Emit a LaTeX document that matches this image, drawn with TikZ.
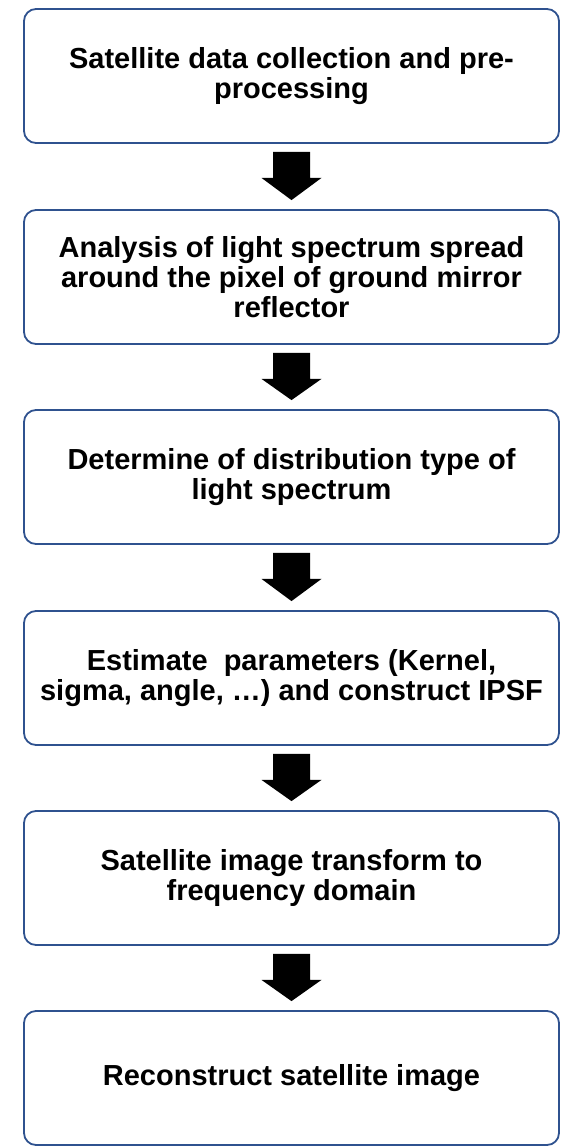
\documentclass[tikz,border=0pt]{standalone}
\usepackage{fontspec}
\setmainfont{Liberation Sans}
\usetikzlibrary{calc}
\definecolor{boxblue}{RGB}{47,82,143}
\tikzset{
  stepbox/.style={draw=boxblue, line width=1.8pt, rounded corners=12pt,
    minimum width=535pt, minimum height=134pt, align=center, inner sep=0pt,
    font=\fontsize{29}{30}\selectfont\bfseries},
  blockarrow/.style={fill=black, draw=none}
}
\begin{document}
\begin{tikzpicture}[x=1pt,y=1pt]
\useasboundingbox (0,0) rectangle (577,-1146);
\node[stepbox] (b1) at (291.5,-76) {Satellite data collection and pre-\\processing};
\node[stepbox] (b2) at (291.5,-277) {Analysis of light spectrum spread\\around the pixel of ground mirror\\reflector};
\node[stepbox] (b3) at (291.5,-477) {Determine of distribution type of\\light spectrum};
\node[stepbox] (b4) at (291.5,-678) {Estimate\ \ parameters (Kernel,\\sigma, angle, …) and construct IPSF};
\node[stepbox] (b5) at (291.5,-878) {Satellite image transform to\\frequency domain};
\node[stepbox] (b6) at (291.5,-1078) {Reconstruct satellite image};
\foreach \a/\b in {b1/b2,b2/b3,b3/b4,b4/b5,b5/b6}{
  \fill[blockarrow] ($(\a.south)+(-18.5,-8)$) -- ($(\a.south)+(18.5,-8)$)
    -- ($(\a.south)+(18.5,-34)$) -- ($(\a.south)+(30,-34)$)
    -- ($(\b.north)+(0,9)$)
    -- ($(\a.south)+(-30,-34)$) -- ($(\a.south)+(-18.5,-34)$) -- cycle;
}
\end{tikzpicture}
\end{document}
